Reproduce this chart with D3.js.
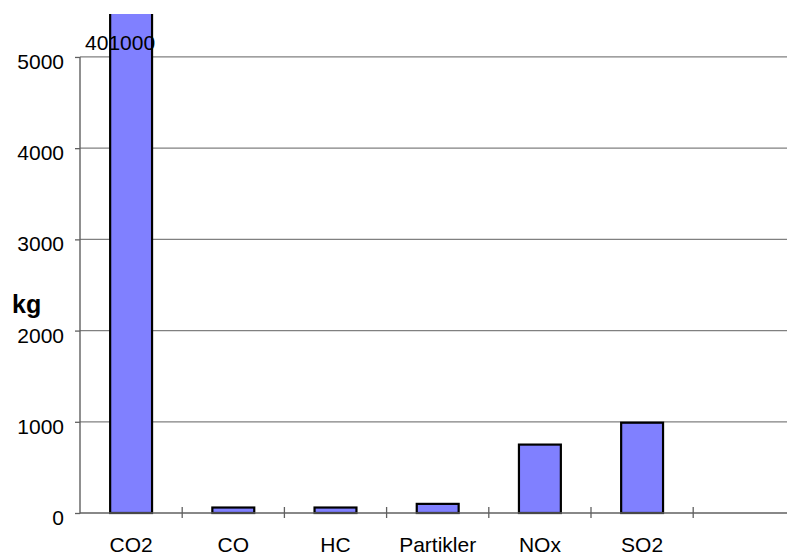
<!DOCTYPE html>
<html>
<head>
<meta charset="utf-8">
<script src="https://cdn.jsdelivr.net/npm/d3@7"></script>
<style>
  html, body { margin: 0; padding: 0; background: #fff; overflow: hidden; }
  svg { display: block; font-family: "Liberation Sans", Arial, sans-serif; }
</style>
</head>
<body>
<svg id="chart" width="787" height="556"></svg>
<script>
// Emission amounts per pollutant (kg); the last slot on the axis is empty
const categories = ["CO2", "CO", "HC", "Partikler", "NOx", "SO2", ""];
const values = [401000, 60, 60, 100, 750, 990, null];
const valueLabels = ["401000", null, null, null, null, null, null];
const yTicks = [0, 1000, 2000, 3000, 4000, 5000];
const yTitle = "kg";

const svg = d3.select("#chart");
const W = 787, H = 556;
const plotLeft = 80, plotBottom = 513, plotTop = 14;
const step = 102.2;
const plotRight = plotLeft + categories.length * step;

const y = d3.scaleLinear().domain([0, 5471]).range([plotBottom, plotTop]);
const xCat = d3.scaleBand().domain(d3.range(categories.length)).range([plotLeft, plotRight]);
const xBar = d3.scaleBand().domain(d3.range(categories.length)).range([plotLeft, plotRight])
  .paddingInner(0.59).paddingOuter(0.295);

// Horizontal gridlines at each y tick (except the baseline)
svg.append("g").selectAll("line").data(yTicks.filter(d => d > 0)).join("line")
  .attr("x1", plotLeft).attr("x2", W)
  .attr("y1", d => y(d)).attr("y2", d => y(d))
  .attr("stroke", "#808080").attr("stroke-width", 1.3);

// Bars, clipped to the plot area
svg.append("defs").append("clipPath").attr("id", "plotClip")
  .append("rect").attr("x", plotLeft).attr("y", plotTop)
  .attr("width", W - plotLeft).attr("height", plotBottom - plotTop + 2);

const barData = categories.map((c, i) => ({ i, c, v: values[i] })).filter(d => d.v != null);
svg.append("g").attr("clip-path", "url(#plotClip)")
  .selectAll("rect").data(barData).join("rect")
  .attr("x", d => xBar(d.i))
  .attr("width", xBar.bandwidth())
  .attr("y", d => Math.max(y(d.v), plotTop - 5))
  .attr("height", d => plotBottom - Math.max(y(d.v), plotTop - 5))
  .attr("fill", "#8080ff")
  .attr("stroke", "#000")
  .attr("stroke-width", 2.2);

// Y axis
const yAxis = d3.axisLeft(y).tickValues(yTicks).tickSize(5).tickPadding(11).tickFormat(d3.format("d"));
const gy = svg.append("g").attr("transform", `translate(${plotLeft},0)`).call(yAxis);
gy.select(".domain").remove();
gy.append("line").attr("x1", 0).attr("x2", 0).attr("y1", y(5000)).attr("y2", plotBottom + 0.5)
  .attr("stroke", "#606060").attr("stroke-width", 1.4);
gy.selectAll(".tick line").attr("stroke", "#606060").attr("stroke-width", 1.3);
gy.selectAll(".tick text")
  .attr("font-size", 21).attr("fill", "#000")
  .attr("font-family", "'Liberation Sans', Arial, sans-serif")
  .attr("dy", "0.55em");

// X axis: baseline with crossing tick marks at category boundaries
const gx = svg.append("g");
gx.append("line").attr("x1", plotLeft).attr("x2", W).attr("y1", plotBottom).attr("y2", plotBottom)
  .attr("stroke", "#606060").attr("stroke-width", 1.4);
gx.selectAll("line.tk").data(d3.range(1, categories.length)).join("line").attr("class", "tk")
  .attr("x1", i => xCat(i)).attr("x2", i => xCat(i))
  .attr("y1", plotBottom - 6).attr("y2", plotBottom + 5)
  .attr("stroke", "#606060").attr("stroke-width", 1.3);
gx.selectAll("text").data(categories.map((c, i) => ({ c, i }))).join("text")
  .attr("x", d => xCat(d.i) + xCat.bandwidth() / 2)
  .attr("y", 551.5)
  .attr("text-anchor", "middle")
  .attr("font-size", 21)
  .text(d => d.c);

// Value label on the clipped bar
svg.append("g").selectAll("text").data(valueLabels.map((t, i) => ({ t, i })).filter(d => d.t)).join("text")
  .attr("x", d => xCat(d.i) + xCat.bandwidth() / 2 - 11)
  .attr("y", 50)
  .attr("text-anchor", "middle")
  .attr("font-size", 21)
  .text(d => d.t);

// Y axis title
svg.append("text")
  .attr("x", 12).attr("y", 313)
  .attr("font-size", 25).attr("font-weight", "bold")
  .text(yTitle);
</script>
</body>
</html>
